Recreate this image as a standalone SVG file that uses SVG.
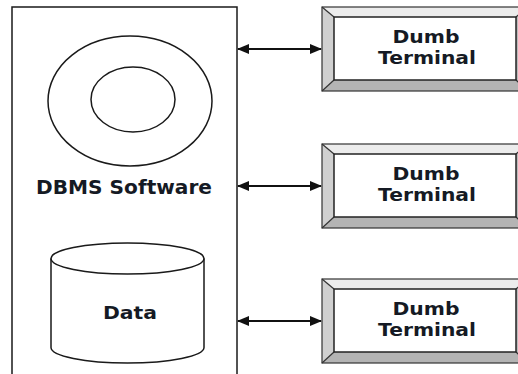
<svg xmlns="http://www.w3.org/2000/svg" width="518" height="374" viewBox="0 0 518 374">
  <style>
    .line { fill: none; stroke: #1a1a1a; stroke-width: 1.5; }
    .lbl { font-family: "DejaVu Sans", Verdana, sans-serif; font-weight: bold; fill: #151a24; text-anchor: middle; }
    .conn { stroke: #111; stroke-width: 2; fill: none; marker-start: url(#head); marker-end: url(#head); }
    .bevel-edge { fill: none; stroke: #333; stroke-width: 1.2; }
    .face-top { fill: #ececec; }
    .face-left { fill: #d0d0d0; }
    .face-bottom { fill: #b4b4b4; }
    .face-right { fill: #bcbcbc; }
    .inner { fill: #ffffff; stroke: #222; stroke-width: 1.5; }
  </style>
  <defs>
    <marker id="head" viewBox="0 0 12 10" refX="11" refY="5" markerWidth="12" markerHeight="10" markerUnits="userSpaceOnUse" orient="auto-start-reverse">
      <path d="M0,0 L12,5 L0,10 Z" fill="#111"/>
    </marker>
    <!-- bevelled terminal, drawn at origin: outer 206x84, inner inset 12/10 -->
    <g id="terminal">
      <polygon class="face-top" points="0,0 206,0 194,10 12,10"/>
      <polygon class="face-left" points="0,0 12,10 12,73 0,84"/>
      <polygon class="face-bottom" points="0,84 12,73 194,73 206,84"/>
      <polygon class="face-right" points="206,0 194,10 194,73 206,84"/>
      <line class="bevel-edge" x1="0" y1="0" x2="12" y2="10"/>
      <line class="bevel-edge" x1="0" y1="84" x2="12" y2="73"/>
      <line class="bevel-edge" x1="206" y1="0" x2="194" y2="10"/>
      <line class="bevel-edge" x1="206" y1="84" x2="194" y2="73"/>
      <rect class="bevel-edge" x="0" y="0" width="206" height="84"/>
      <rect class="inner" x="12" y="10" width="182" height="63"/>
    </g>
  </defs>

  <rect width="518" height="374" fill="#ffffff"/>

  <!-- server enclosure -->
  <g id="server">
    <rect class="line" x="12" y="7" width="225" height="380"/>
  </g>

  <g id="dbms">
    <ellipse class="line" cx="130" cy="101" rx="82" ry="65"/>
    <ellipse class="line" cx="133" cy="99.5" rx="42" ry="32.5"/>
    <text class="lbl" x="124" y="194" font-size="19" textLength="176" lengthAdjust="spacingAndGlyphs">DBMS Software</text>
  </g>

  <g id="data">
    <path class="line" d="M51,258.5 L51,347.5 A76.5,15.5 0 0 0 204,347.5 L204,258.5" fill="#fff"/>
    <ellipse class="line" cx="127.5" cy="258.5" rx="76.5" ry="15.5" fill="#fff"/>
    <text class="lbl" x="130" y="319" font-size="17" textLength="54" lengthAdjust="spacingAndGlyphs">Data</text>
  </g>

  <g id="terminal1" transform="translate(322,7)">
    <use href="#terminal"/>
    <text class="lbl" x="104" y="36.3" font-size="18" textLength="67" lengthAdjust="spacingAndGlyphs">Dumb</text>
    <text class="lbl" x="105" y="57" font-size="18" textLength="98" lengthAdjust="spacingAndGlyphs">Terminal</text>
  </g>

  <g id="terminal2" transform="translate(322,144)">
    <use href="#terminal"/>
    <text class="lbl" x="104" y="36.3" font-size="18" textLength="67" lengthAdjust="spacingAndGlyphs">Dumb</text>
    <text class="lbl" x="105" y="57" font-size="18" textLength="98" lengthAdjust="spacingAndGlyphs">Terminal</text>
  </g>

  <g id="terminal3" transform="translate(322,279)">
    <use href="#terminal"/>
    <text class="lbl" x="104" y="36.3" font-size="18" textLength="67" lengthAdjust="spacingAndGlyphs">Dumb</text>
    <text class="lbl" x="105" y="57" font-size="18" textLength="98" lengthAdjust="spacingAndGlyphs">Terminal</text>
  </g>

  <g id="connectors">
    <line class="conn" x1="238" y1="49" x2="321" y2="49"/>
    <line class="conn" x1="238" y1="186" x2="321" y2="186"/>
    <line class="conn" x1="238" y1="321" x2="321" y2="321"/>
  </g>
</svg>
